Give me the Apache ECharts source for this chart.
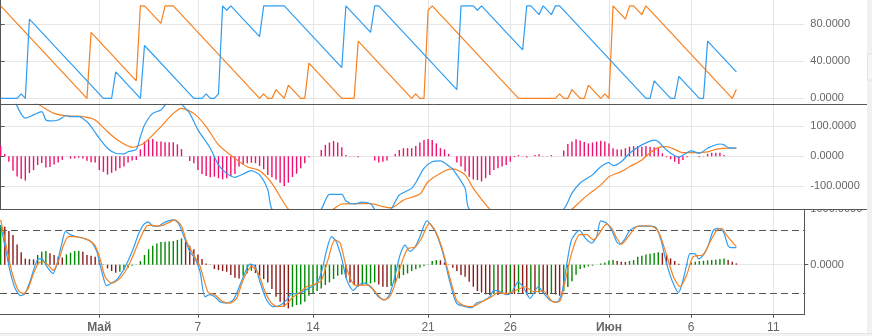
<!DOCTYPE html>
<html><head><meta charset="utf-8">
<script src="https://cdn.jsdelivr.net/npm/echarts@6/dist/echarts.min.js"></script>
<style>html,body{margin:0;padding:0;background:#fff}#c{width:872px;height:336px}</style>
</head><body><div id="c"></div>
<script>
// x is the 6-hour candle index: 0 = 25 Apr 00:00, 24 = 1 May, 148 = 1 Jun
const xTickIndex = [24, 48, 76, 104, 124, 148, 168, 188];
const xTickLabels = ['Май', '7', '14', '21', '26', 'Июн', '6', '11'];
const monthTicks = ['Май', 'Июн'];
const yTicksTop = [0, 40, 80];
const yTicksMid = [-100, 0, 100];
const yTicksBottom = [0, 1000];
const stochLevels = [80, 20];

// Top panel (Aroon): [index, value] vertices
const aroonUp = [[0,0],[4,0],[5,4.8],[6,0],[7,85.7],[25,0],[27,0],[28,28.6],[34,0],[35,57.1],[47,0],[49,0],[50,4.8],[51,0],[52,0],[53,4.8],[54,100],[55,95.2],[56,100],[63,66.7],[64,100],[69,100],[83,33.3],[84,100],[90,71.4],[91,100],[92,100],[111,9.5],[112,100],[115,100],[116,95.2],[117,100],[127,52.4],[128,100],[129,100],[131,90.5],[132,100],[134,90.5],[135,100],[136,100],[157,0],[158,0],[159,19],[163,0],[164,0],[165,23.8],[170,0],[171,0],[172,61.9],[179,28.6]];
const aroonDown = [[0,100],[21,0],[22,71.4],[33,19],[34,100],[35,100],[39,81],[40,100],[42,100],[63,0],[64,4.8],[65,0],[66,0],[67,9.5],[69,0],[70,14.3],[73,0],[74,0],[75,38.1],[83,0],[86,0],[87,61.9],[100,0],[101,4.8],[102,0],[103,0],[104,95.2],[105,100],[126,0],[135,0],[136,4.8],[137,0],[138,0],[139,9.5],[141,0],[142,0],[143,14.3],[146,0],[147,4.8],[148,0],[149,100],[152,85.7],[153,100],[154,100],[156,90.5],[157,100],[178,0],[179,9.5]];

// Middle panel (MACD)
const macdLine = [[3,200],[6,127],[8,138],[10,149],[11,121],[12,118],[14,121],[16,136],[17,132],[19,132],[21,115],[22,99],[24,60],[26,27],[28,10],[30,8],[31,15],[33,23],[34,65],[35,104],[37,143],[39,154],[40,171],[42,200],[44,174],[46,143],[48,88],[51,27],[53,-29],[55,-57],[57,-70],[59,-59],[61,-48],[63,-62],[65,-112],[66,-176],[72,-260],[78,-176],[80,-127],[83,-127],[84,-149],[86,-159],[88,-153],[90,-158],[91,-176],[93,-195],[95,-176],[97,-129],[100,-107],[101,-88],[103,-40],[105,-18],[107,-15],[109,-32],[110,-43],[113,-107],[114,-176],[125,-300],[137,-176],[139,-123],[141,-89],[143,-71],[144,-62],[146,-35],[148,-21],[149,-31],[151,-18],[153,10],[156,38],[159,54],[160,49],[162,21],[165,-3],[167,12],[168,18],[170,10],[172,27],[175,41],[176,38],[177,29],[179,27]];
const signalLine = [[5,200],[9,174],[13,143],[16,135],[20,132],[23,121],[26,82],[29,49],[32,30],[35,45],[39,99],[42,143],[44,160],[47,143],[50,99],[53,38],[57,-7],[60,-35],[63,-48],[66,-90],[70,-176],[75,-230],[81,-176],[83,-159],[87,-158],[90,-158],[93,-168],[95,-172],[96,-166],[98,-146],[102,-126],[104,-85],[108,-49],[110,-42],[113,-62],[115,-107],[119,-176],[128,-280],[139,-176],[141,-151],[143,-127],[146,-96],[148,-68],[151,-51],[153,-35],[156,-12],[158,12],[160,29],[162,32],[164,23],[166,12],[168,12],[172,15],[174,23],[177,27],[179,27]];
const macdHist = [35,8,-18,-48,-67,-75,-81,-56,-46,-29,-22,-37,-36,-27,-21,-12,0,-8,-7,-5,-7,-15,-20,-21,-46,-52,-61,-55,-48,-40,-34,-21,-14,-12,23,49,54,58,49,49,47,47,47,40,24,0,-16,-23,-46,-59,-66,-70,-68,-73,-77,-73,-66,-59,-34,-29,-23,-21,-23,-32,-43,-62,-70,-77,-88,-99,-88,-69,-58,-40,-23,-3,0,0,21,38,46,51,46,30,4,1,-1,-3,0,0,0,-14,-21,-18,-14,0,8,21,27,27,27,34,46,54,58,54,43,27,23,8,0,-21,-34,-51,-68,-77,-79,-84,-73,-62,-46,-40,-34,-29,-18,-3,4,1,-4,0,4,7,1,1,4,0,0,19,41,49,57,53,48,43,46,49,52,49,43,27,23,23,27,32,34,34,32,34,32,30,27,10,-3,-10,-18,-26,-12,-3,0,0,-3,-1,8,12,12,12,4,0,0,0];

// Bottom panel (stochastic + oscillator histogram)
const stochK = [[0,85],[1,66],[2.3,41],[3.5,25],[4.9,18],[5.9,20],[7.1,31],[8.4,47],[9.2,53],[10,53],[11.2,46],[12.7,39],[13.6,47],[14.8,66],[15.8,79],[16.9,76],[18.5,74],[20.5,72],[22.1,69],[23.4,60],[24.6,41],[25.8,27.5],[27,30],[28.2,33],[29.8,42],[31.1,52],[32.3,63],[33.5,76],[34.7,85],[35.9,88],[37.1,84],[38.4,84],[39.6,87],[40.8,89],[42,90],[43.2,87],[44.4,76],[46,60],[47.3,53],[48.5,41],[49.7,17],[50.9,19],[52.1,17],[53.4,12],[55,11],[56.6,14],[58.2,28],[59.9,44],[60.7,48],[61.9,46],[63.1,31],[64.7,14],[66.3,7.6],[68,9],[69.6,14],[70.8,20],[72,20],[74,23],[76.9,30],[78.1,41],[79.3,61],[80.5,74],[81.7,69],[83,53],[84.2,33],[85.8,23],[87,28],[88.6,30],[90.3,25],[91.9,17],[93.5,14],[94.7,20],[95.9,36],[97.2,57],[98.4,66],[99.6,60],[100.8,64],[102,74],[103.7,89],[104.9,84],[106.1,76],[107.7,57],[109.3,31],[110.9,11],[113,7.6],[114.6,6.6],[115.8,11],[117.4,13],[119,17],[120,23],[121.5,22],[123.1,19],[124.3,21],[125.9,31],[127.2,26],[128.8,15.5],[130.8,26.5],[132,21],[133.6,14],[135.3,11.7],[136.5,20],[137.7,47],[138.9,71],[140.8,80],[142.4,72],[143.8,68],[145,74],[146,89],[147.4,87],[148.7,80],[149.9,69],[150.7,67],[151.9,72],[153.1,80],[155.1,84],[158,84],[159.6,82],[160.8,69],[162,49],[163.5,31],[164.9,21],[165.7,28],[166.9,47],[167.7,58],[168.9,58],[169.8,53],[171,57],[172.2,66],[173.4,80],[174.6,82],[175.8,79],[177,65.5],[177.8,63.6],[179,63.6]];
const stochD = [[0,90],[1,72],[2.7,41],[4.3,23],[5.5,20],[6.7,25],[7.9,38],[9.2,49],[10.4,50],[11.6,47],[12.8,42],[14,50],[15.2,65],[16.5,74],[17.7,74],[19.7,73],[21.3,71],[22.9,66],[24.2,53],[25.4,36],[27,30],[28.6,33],[30.3,41],[31.9,53],[33.9,72],[35.5,84],[36.7,85],[38,84],[39.6,85],[41.2,88],[42.4,90],[44,84],[45.3,69],[46.9,57],[48.5,46],[50.5,21],[52.1,19],[53.8,13],[55.8,11],[57.4,15.5],[59,33],[61.1,46],[62.7,39],[64.3,22],[65.9,11],[67.6,7.6],[69.2,9],[71.2,17],[72.4,20],[74.5,26.5],[76.5,29],[78.1,33],[79.7,53],[81.3,71],[82.6,68],[84.2,44],[86.2,28],[87.8,28],[89.5,28],[91.5,20],[93.1,14],[94.7,17],[96.3,33],[97.9,53],[99.2,63],[100.8,64],[102.4,72.5],[104.3,86.7],[105.7,80],[107.3,64.5],[108.9,41],[110.9,14],[112.6,9],[114.6,7.6],[117,12],[119,16],[121.1,21],[123.1,20],[125.5,23.4],[127.6,26.5],[129.6,22],[132,22.5],[134.5,12],[136.1,13],[137.3,31],[138.9,58],[140.9,76],[142.6,76],[144.2,71],[145.4,75.6],[147.4,86],[148.7,82],[149.9,72.5],[151.1,67],[152.7,74],[154.7,83.5],[157.2,84.4],[159.2,82.5],[160.4,75.6],[162,57],[163.7,36],[165.3,26.5],[166.9,37.6],[168.5,55],[171,57],[172.6,69],[174.2,80],[175.4,82],[176.6,75.6],[179,64.5]];
const oscHist = [716,686,608,536,367,223,110,100,95,175,235,247,205,175,144,130,186,217,247,250,235,175,162,144,84,-6,-66,-114,-144,-126,-96,-54,-18,6,66,175,277,343,385,410,415,420,427,445,475,415,343,277,186,102,24,6,-78,-96,-114,-126,-186,-235,-247,-199,-156,-110,-150,-199,-259,-319,-439,-577,-668,-758,-790,-760,-728,-716,-668,-560,-517,-475,-427,-367,-319,-259,-199,-175,-235,-319,-367,-397,-367,-355,-337,-319,-355,-397,-400,-380,-337,-247,-187,-156,-114,-84,-54,-24,6,66,84,80,42,-6,-54,-114,-187,-217,-307,-397,-475,-500,-535,-548,-530,-545,-520,-540,-510,-530,-500,-520,-540,-510,-525,-505,-530,-550,-520,-540,-560,-480,-400,-300,-180,-78,-54,-30,-18,0,24,42,78,84,66,54,50,66,84,144,162,186,199,211,223,215,174,114,66,18,0,18,42,54,66,70,78,84,90,102,114,84,54,24];

const BLUE = '#2e9df2', ORANGE = '#f7801f', PINK = '#ef0f6e', GREEN = '#008a00', MAROON = '#8b1a1a';
const AX = '#555', GRID = '#e6e6e6', LBL = '#666';
const FONT = '"Liberation Sans", Arial, sans-serif';

const idx = a => a.map((v, i) => [i, v]);
const oscData = oscHist.map((v, i) => ({
  value: [i, v],
  itemStyle: { color: (i === 0 || v >= oscHist[i - 1]) ? GREEN : MAROON }
}));

const gridRight = 67.7;
const grids = [
  { left: 0, right: gridRight, top: 0, height: 104.3 },
  { left: 0, right: gridRight, top: 104.3, height: 105 },
  { left: 0, right: gridRight, top: 209.3, height: 105.4 }
];

function xAxisFor(g, bottom) {
  return {
    type: 'value', gridIndex: g, min: -0.16, max: 195.53,
    axisLine: { show: bottom, lineStyle: { color: AX, width: 1 } },
    axisTick: { show: bottom, customValues: xTickIndex, length: 3, lineStyle: { color: AX } },
    axisLabel: {
      show: bottom, customValues: xTickIndex, margin: 7,
      fontFamily: FONT, fontSize: 12, color: LBL,
      formatter: v => {
        const t = xTickLabels[xTickIndex.indexOf(Math.round(v))] || '';
        return monthTicks.includes(t) ? '{b|' + t + '}' : t;
      },
      rich: { b: { fontWeight: 'bold', fontFamily: FONT, fontSize: 12, color: LBL } }
    },
    splitLine: { show: true, lineStyle: { color: GRID, width: 1 } }
  };
}
function yAxisFor(g, min, max, ticks) {
  return {
    type: 'value', gridIndex: g, position: 'right', min, max,
    axisLine: { show: true, lineStyle: { color: AX, width: 1 } },
    axisTick: { show: true, customValues: ticks, length: 4, lineStyle: { color: AX } },
    axisLabel: { customValues: ticks, margin: 6, fontFamily: FONT, fontSize: 11, color: LBL,
      formatter: v => Number(v).toFixed(4) },
    splitLine: { show: true, lineStyle: { color: GRID, width: 1 } }
  };
}

const lineBase = { type: 'line', showSymbol: false, symbol: 'none', silent: true, z: 5 };

const option = {
  animation: false,
  backgroundColor: '#fff',
  grid: grids,
  xAxis: [xAxisFor(0, false), xAxisFor(1, false), xAxisFor(2, true)],
  yAxis: [
    yAxisFor(0, -6.4, 106.3, yTicksTop),
    yAxisFor(1, -176.7, 173.3, yTicksMid),
    { type: 'value', gridIndex: 2, position: 'left', min: 0, max: 100, show: false, splitLine: { show: false } },
    yAxisFor(2, -902, 1000, yTicksBottom)
  ],
  series: [
    Object.assign({}, lineBase, { name: 'Aroon Down', xAxisIndex: 0, yAxisIndex: 0, data: aroonDown, lineStyle: { color: ORANGE, width: 1.2 } }),
    Object.assign({}, lineBase, { name: 'Aroon Up', xAxisIndex: 0, yAxisIndex: 0, data: aroonUp, lineStyle: { color: BLUE, width: 1.2 } }),
    { type: 'bar', name: 'MACD Hist', xAxisIndex: 1, yAxisIndex: 1, data: idx(macdHist), barWidth: 1.4, itemStyle: { color: PINK }, silent: true, z: 3 },
    Object.assign({}, lineBase, { name: 'Signal', xAxisIndex: 1, yAxisIndex: 1, data: signalLine, smooth: 0.25, lineStyle: { color: ORANGE, width: 1.2 } }),
    Object.assign({}, lineBase, { name: 'MACD', xAxisIndex: 1, yAxisIndex: 1, data: macdLine, smooth: 0.25, lineStyle: { color: BLUE, width: 1.2 } }),
    { type: 'bar', name: 'Osc Hist', xAxisIndex: 2, yAxisIndex: 3, data: oscData, barWidth: 1.4, silent: true, z: 3 },
    Object.assign({}, lineBase, { name: '%K', xAxisIndex: 2, yAxisIndex: 2, data: stochK, smooth: 0.25, lineStyle: { color: BLUE, width: 1.2 },
      markLine: { silent: true, symbol: 'none', label: { show: false },
        lineStyle: { color: AX, type: [7, 4], width: 1 },
        data: stochLevels.map(v => ({ yAxis: v })) } }),
    Object.assign({}, lineBase, { name: '%D', xAxisIndex: 2, yAxisIndex: 2, data: stochD, smooth: 0.25, lineStyle: { color: ORANGE, width: 1.2 } })
  ],
  graphic: [
    { type: 'rect', z: 50, shape: { x: 805.5, y: 203, width: 61, height: 6.3 }, style: { fill: '#fff' } },
    { type: 'line', z: 60, shape: { x1: 0, y1: 104.5, x2: 867, y2: 104.5 }, style: { stroke: AX, lineWidth: 1 } },
    { type: 'line', z: 60, shape: { x1: 0, y1: 209.5, x2: 867, y2: 209.5 }, style: { stroke: AX, lineWidth: 1 } },
    { type: 'rect', z: 40, shape: { x: 867, y: 0, width: 5, height: 333 }, style: { fill: '#f1f1f1' } },
    { type: 'rect', z: 41, shape: { x: 867.5, y: 54, width: 5, height: 26 }, style: { fill: '#f6f6f6', stroke: '#e2e2e2', lineWidth: 1 } },
    { type: 'rect', z: 40, shape: { x: 0, y: 333, width: 872, height: 3 }, style: { fill: '#f3f3f3' } },
    { type: 'line', z: 41, shape: { x1: 0, y1: 333.5, x2: 872, y2: 333.5 }, style: { stroke: '#e4e4e4', lineWidth: 1 } }
  ]
};

const chart = echarts.init(document.getElementById('c'), null, { renderer: 'canvas' });
chart.setOption(option);
</script>
</body></html>
